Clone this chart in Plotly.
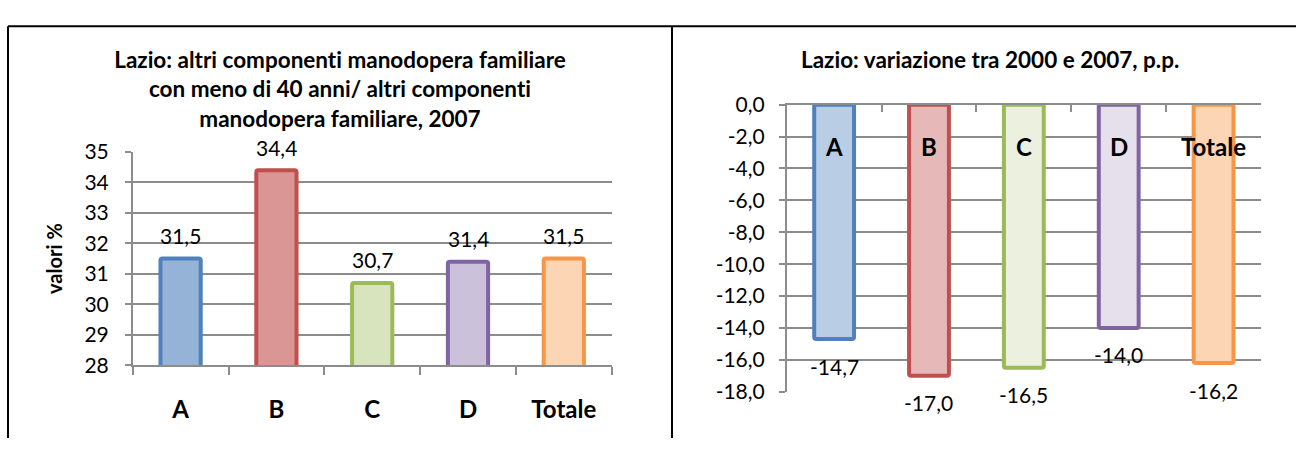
import plotly.graph_objects as go

# ---- data ----
categories = ["A", "B", "C", "D", "Totale"]
share_2007 = [31.5, 34.4, 30.7, 31.4, 31.5]
change_2000_2007 = [-14.7, -17.0, -16.5, -14.0, -16.2]

left_title = "Lazio: altri componenti manodopera familiare<br>con meno di 40 anni/ altri componenti<br>manodopera familiare, 2007"
right_title = "Lazio: variazione tra 2000 e 2007, p.p."
left_yaxis_title = "valori %"
left_ticks = [28, 29, 30, 31, 32, 33, 34, 35]
right_ticks = [0, -2, -4, -6, -8, -10, -12, -14, -16, -18]

border_colors = ["#4F81BD", "#C0504D", "#9BBB59", "#8064A2", "#F79646"]
left_fills = ["#95B3D7", "#D99694", "#D7E4BD", "#CCC1DA", "#FCD5B5"]
right_fills = ["#B9CDE5", "#E6B9B8", "#EBF1DE", "#E6E0EC", "#FCD5B5"]

FONT = "Lato"
GRID = "#8C8C8C"
W, H = 1296, 449


def fmt(v):
    return f"{v:.1f}".replace(".", ",")


def px_x(p):  # pixel -> paper fraction
    return p / W


def px_y(p):
    return 1 - p / H


fig = go.Figure()

fig.add_trace(go.Bar(
    x=categories, y=share_2007, xaxis="x", yaxis="y",
    marker=dict(color=left_fills, line=dict(color=border_colors, width=4), cornerradius=2),
    showlegend=False, hoverinfo="x+y",
))
fig.add_trace(go.Bar(
    x=categories, y=change_2000_2007, xaxis="x2", yaxis="y2",
    marker=dict(color=right_fills, line=dict(color=border_colors, width=4), cornerradius=2),
    showlegend=False, hoverinfo="x+y",
))

annotations = []
for c, v in zip(categories, share_2007):
    annotations.append(dict(x=c, y=v, xref="x", yref="y", text=fmt(v), showarrow=False,
                            yshift=23, font=dict(family=FONT, size=21, color="#000")))
for c, v in zip(categories, change_2000_2007):
    annotations.append(dict(x=c, y=v, xref="x2", yref="y2", text=fmt(v), showarrow=False,
                            yshift=-27, font=dict(family=FONT, size=21, color="#000")))
# category labels of the right chart, drawn just below the zero axis
for c in categories:
    annotations.append(dict(x=c, y=1, xref="x2", yref="y2 domain", text=c, showarrow=False,
                            yanchor="middle", yshift=-42,
                            font=dict(family=FONT, size=24, color="#000", weight="bold")))

# titles
annotations.append(dict(x=px_x(340), y=px_y(32), xref="paper", yref="paper", text=left_title,
                        showarrow=False, xanchor="center", yanchor="top",
                        font=dict(family=FONT, size=22.5, color="#000", weight="bold")))
annotations.append(dict(x=px_x(990), y=px_y(32), xref="paper", yref="paper", text=right_title,
                        showarrow=False, xanchor="center", yanchor="top",
                        font=dict(family=FONT, size=22.5, color="#000", weight="bold")))

# panel frames
shapes = [
    dict(type="line", xref="paper", yref="paper", x0=px_x(8), x1=1, y0=px_y(13), y1=px_y(13),
         line=dict(color="#000", width=2)),
    dict(type="line", xref="paper", yref="paper", x0=px_x(8), x1=px_x(8), y0=px_y(13), y1=0,
         line=dict(color="#000", width=2)),
    dict(type="line", xref="paper", yref="paper", x0=px_x(672), x1=px_x(672), y0=px_y(13), y1=0,
         line=dict(color="#000", width=2)),
]

fig.update_layout(
    width=W, height=H,
    margin=dict(l=0, r=0, t=0, b=0),
    paper_bgcolor="white", plot_bgcolor="white",
    bargap=0.58,
    font=dict(family=FONT, color="#000"),
    annotations=annotations,
    shapes=shapes,
    xaxis=dict(
        domain=[px_x(132.7), px_x(611.7)], anchor="y",
        type="category", categoryarray=categories, range=[-0.5, 4.5],
        tickson="boundaries", ticks="outside", ticklen=8, tickwidth=1.5, tickcolor=GRID,
        showline=True, linecolor=GRID, linewidth=1.5, showgrid=False,
        tickfont=dict(family=FONT, size=24, color="#000", weight="bold"),
        ticklabelstandoff=22,
    ),
    yaxis=dict(
        domain=[px_y(372), px_y(146)], anchor="x",
        range=[28, 35], tickvals=left_ticks, ticktext=[str(t) for t in left_ticks],
        ticks="outside", ticklen=6, tickwidth=1.5, tickcolor=GRID,
        showline=True, linecolor=GRID, linewidth=1.5,
        showgrid=True, gridcolor=GRID, gridwidth=1.5, zeroline=False,
        tickfont=dict(family=FONT, size=21, color="#000"),
        ticklabelstandoff=12,
        title=dict(text=left_yaxis_title, standoff=16,
                   font=dict(family=FONT, size=20, color="#000", weight="bold")),
    ),
    xaxis2=dict(
        domain=[px_x(786.7), px_x(1261)], anchor="y2", side="top",
        type="category", categoryarray=categories, range=[-0.5, 4.5],
        tickson="boundaries", ticks="inside", ticklen=8, tickwidth=1.5, tickcolor=GRID,
        showline=True, linecolor=GRID, linewidth=1.5, showgrid=False,
        showticklabels=False,
    ),
    yaxis2=dict(
        domain=[px_y(400), px_y(96)], anchor="x2",
        range=[-18, 0], tickvals=right_ticks, ticktext=[fmt(t) for t in right_ticks],
        ticks="outside", ticklen=6, tickwidth=1.5, tickcolor=GRID,
        showline=True, linecolor=GRID, linewidth=1.5,
        showgrid=True, gridcolor=GRID, gridwidth=1.5, zeroline=False,
        tickfont=dict(family=FONT, size=21, color="#000"),
        ticklabelstandoff=10,
    ),
)

post = ("document.body.style.margin='0';"
        "var s=document.createElement('style');"
        "s.textContent='svg text{font-variant-ligatures:none;font-feature-settings:\"liga\" 0;}';"
        "document.head.appendChild(s);")

fig.write_html("out.html", post_script=post, config={"displayModeBar": False})
